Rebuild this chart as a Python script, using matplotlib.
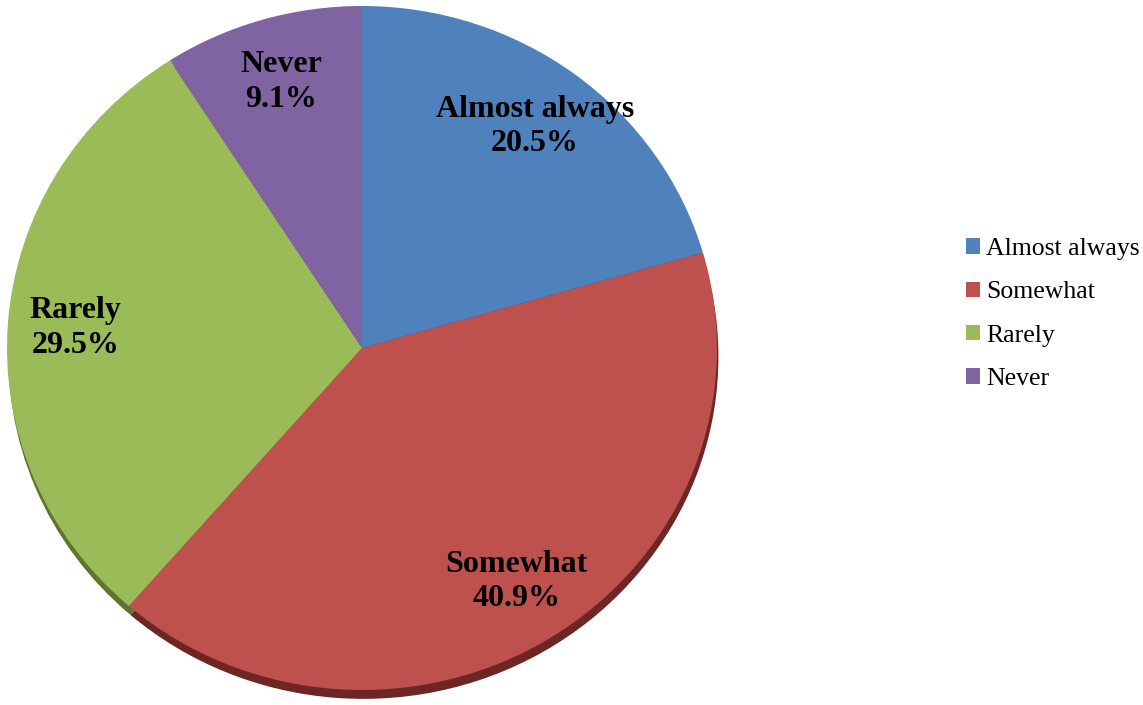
import matplotlib.pyplot as plt
from matplotlib.patches import Patch

categories = ["Almost always", "Somewhat", "Rarely", "Never"]
shares = [20.5, 40.9, 29.5, 9.1]
colors = ["#4F81BD", "#BE504D", "#9BBB59", "#8064A2"]
shadow_colors = ["#2E4F78", "#6E2624", "#5E7530", "#4B3868"]

plt.rcParams['font.family'] = ['Liberation Serif', 'DejaVu Serif']

fig = plt.figure(figsize=(11.43, 7.05), dpi=100)
# pie face spans roughly x 7..717, y 6..690 px
ax = fig.add_axes([7 / 1143, 15 / 705, 710 / 1143, 684 / 705])

# 3d-ish rim below the face
ax.pie(shares, colors=shadow_colors, startangle=90, counterclock=False,
       center=(0.004, -0.026), radius=1.0,
       wedgeprops=dict(edgecolor="none"))

labels = [f"{c}\n{s}%" for c, s in zip(categories, shares)]
wedges, texts = ax.pie(shares, colors=colors, startangle=90, counterclock=False,
                       labels=labels, labeldistance=0.81,
                       wedgeprops=dict(edgecolor="none"),
                       textprops=dict(fontsize=23, fontweight="bold",
                                      ha="center", va="center",
                                      linespacing=1.25))
for t in texts:
    t.set_horizontalalignment("center")

ax.set_aspect("auto")
ax.set_xlim(-1, 1)
ax.set_ylim(-1, 1)
ax.axis("off")

handles = [Patch(facecolor=c, edgecolor="none") for c in colors]
fig.legend(handles, categories, loc="center left",
           bbox_to_anchor=(953 / 1143, 1 - 314 / 705), frameon=False,
           fontsize=18.5, handlelength=0.55, handleheight=0.55,
           handletextpad=0.25, labelspacing=0.83, borderpad=0)

fig.savefig("out.png", dpi=100)
